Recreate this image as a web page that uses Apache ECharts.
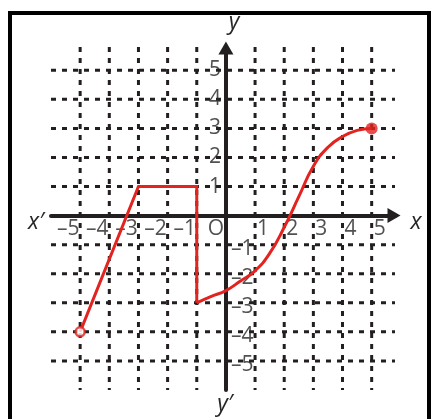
<!DOCTYPE html>
<html>
<head>
<meta charset="utf-8">
<script src="https://cdn.jsdelivr.net/npm/echarts@6/dist/echarts.min.js"></script>
<style>
  html, body { margin: 0; padding: 0; background: #fff; }
  #main { width: 438px; height: 419px; }
</style>
</head>
<body>
<div id="main"></div>
<script>
// ticks and labels
var xTicks = [-5, -4, -3, -2, -1, 1, 2, 3, 4, 5];
var yTicks = [-5, -4, -3, -2, -1, 1, 2, 3, 4, 5];
var negLabels = ['–5', '–4', '–3', '–2', '–1'];
var posLabels = ['1', '2', '3', '4', '5'];
var negTicks = [-5, -4, -3, -2, -1];
var posTicks = [1, 2, 3, 4, 5];

// the graph: straight part, then the smooth part
var stepX = [-5, -3, -1, -1];
var stepY = [-4, 1, 1, -3];
var curveX = [-1, -0.5, 0, 0.5, 1, 1.5, 2, 2.5, 3, 3.5, 4, 4.5, 5];
var curveY = [-3, -2.78, -2.58, -2.25, -1.9, -1.3, -0.4, 0.65, 1.7, 2.35, 2.72, 2.93, 3];
var openPt = [-5, -4];
var closedPt = [5, 3];

var axMin = -6, axMax = 5.8;
var red = '#e2231f';
var ink = '#231f20';
var txt = '#262626';
var font = 'Open Sans';

function zip(a, b) {
  var out = [];
  for (var i = 0; i < a.length; i++) out.push([a[i], b[i]]);
  return out;
}

var chart = echarts.init(document.getElementById('main'));

var series = [];
// dashed grid
yTicks.forEach(function (v) {
  series.push({
    type: 'line', silent: true, symbol: 'none', z: 1,
    data: [[axMin, v], [axMax, v]],
    lineStyle: { color: ink, width: 3, type: [5, 6] }
  });
});
xTicks.forEach(function (v) {
  series.push({
    type: 'line', silent: true, symbol: 'none', z: 1,
    data: [[v, axMax], [v, axMin]],
    lineStyle: { color: ink, width: 3, type: [5, 6] }
  });
});

// tick labels
var lbl = { show: true, color: txt, fontFamily: font, fontSize: 21 };
series.push({
  type: 'scatter', symbolSize: 0, silent: true, z: 5,
  data: negTicks.map(function (v, i) { return { value: [v, 0], name: negLabels[i] }; }),
  label: Object.assign({ position: 'inside', offset: [-12, 13], formatter: '{b}' }, lbl)
});
series.push({
  type: 'scatter', symbolSize: 0, silent: true, z: 5,
  data: posTicks.map(function (v, i) { return { value: [v, 0], name: posLabels[i] }; }),
  label: Object.assign({ position: 'inside', offset: [8, 13], formatter: '{b}' }, lbl)
});
series.push({
  type: 'scatter', symbolSize: 0, silent: true, z: 5,
  data: [{ value: [0, 0], name: 'O' }],
  label: Object.assign({ position: 'inside', offset: [-10, 13], formatter: '{b}' }, lbl)
});
series.push({
  type: 'scatter', symbolSize: 0, silent: true, z: 5,
  data: posTicks.map(function (v, i) { return { value: [0, v], name: posLabels[i] }; }),
  label: Object.assign({ position: 'left', distance: 5, formatter: '{b}' }, lbl)
});
series.push({
  type: 'scatter', symbolSize: 0, silent: true, z: 5,
  data: negTicks.map(function (v, i) { return { value: [0, v], name: negLabels[i] }; }),
  label: Object.assign({ position: 'right', distance: 5, offset: [0, 4], formatter: '{b}' }, lbl)
});

// the function
series.push({
  type: 'line', symbol: 'none', z: 10,
  data: zip(stepX, stepY),
  lineStyle: { color: red, width: 3, join: 'miter' }
});
series.push({
  type: 'line', symbol: 'none', smooth: true, z: 10,
  data: zip(curveX, curveY),
  lineStyle: { color: red, width: 3 }
});
series.push({
  type: 'scatter', z: 11, symbol: 'circle', symbolSize: 9,
  data: [openPt],
  itemStyle: { color: '#fff', borderColor: red, borderWidth: 2.5 }
});
series.push({
  type: 'scatter', z: 11, symbol: 'circle', symbolSize: 12,
  data: [closedPt],
  itemStyle: { color: red }
});

var axisBase = {
  type: 'value', min: axMin, max: axMax,
  axisTick: { show: false }, axisLabel: { show: false }, splitLine: { show: false },
  axisLine: {
    onZero: true,
    symbol: ['none', 'triangle'], symbolSize: [15, 13], symbolOffset: [0, -1],
    lineStyle: { color: ink, width: 4 }
  }
};

var option = {
  animation: false,
  backgroundColor: '#fff',
  grid: { left: 51, right: 43, top: 47, bottom: 29 },
  xAxis: axisBase,
  yAxis: JSON.parse(JSON.stringify(axisBase)),
  graphic: [
    { type: 'rect', shape: { x: 10, y: 13, width: 419, height: 440 }, style: { fill: 'none', stroke: '#000', lineWidth: 4 } },
    { type: 'text', x: 234, y: 22, style: { text: 'y', font: 'italic 23px "Open Sans"', fill: txt, align: 'center', verticalAlign: 'middle' } },
    { type: 'text', x: 225, y: 404, style: { text: 'y′', font: 'italic 23px "Open Sans"', fill: txt, align: 'center', verticalAlign: 'middle' } },
    { type: 'text', x: 36, y: 222, style: { text: 'x′', font: 'italic 23px "Open Sans"', fill: txt, align: 'center', verticalAlign: 'middle' } },
    { type: 'text', x: 416, y: 222, style: { text: 'x', font: 'italic 23px "Open Sans"', fill: txt, align: 'center', verticalAlign: 'middle' } }
  ],
  series: series
};

chart.setOption(option);
</script>
</body>
</html>
